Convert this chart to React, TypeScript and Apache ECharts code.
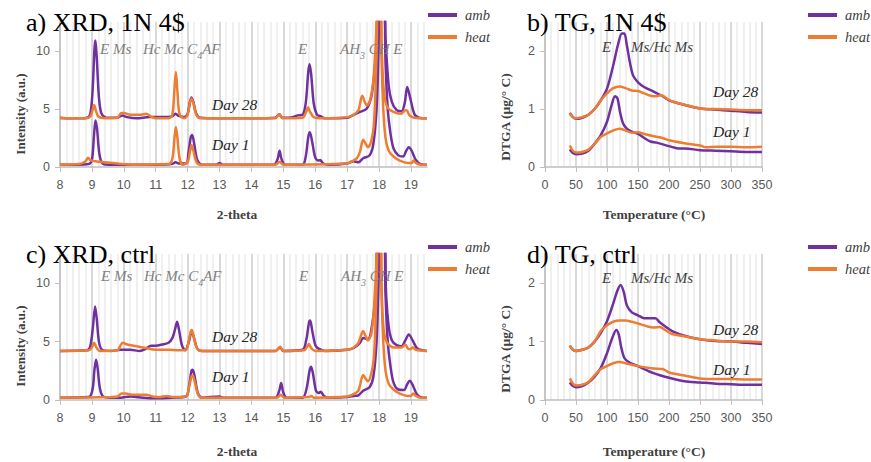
import React, { useEffect, useRef } from "react";
import * as echarts from "echarts";

// ---------- DATA ----------
const seriesNames = ["amb", "heat"];
const xrdTickLabels = [8, 9, 10, 11, 12, 13, 14, 15, 16, 17, 18, 19];
const xrdYTicks = [0, 5, 10];
const tgYTicks = [0, 1, 2];

// a) XRD, 1N 4$
const aAmb28 = [[8,4.25],[8.3,4.2],[8.6,4.2],[8.85,4.25],[8.95,4.6],[9.02,6.5],[9.08,10.2],[9.11,10.9],[9.15,9.5],[9.22,6.0],[9.3,4.6],[9.45,4.25],[9.8,4.25],[9.95,4.45],[10.1,4.3],[10.4,4.2],[10.8,4.3],[11.2,4.3],[11.5,4.35],[11.62,4.6],[11.72,4.4],[11.9,4.3],[12.0,4.6],[12.07,5.6],[12.12,6.0],[12.18,5.6],[12.27,4.6],[12.4,4.25],[13,4.2],[14,4.2],[14.75,4.25],[14.87,4.55],[14.97,4.25],[15.3,4.3],[15.45,4.45],[15.6,4.5],[15.7,5.5],[15.78,8.2],[15.82,8.85],[15.87,8.0],[15.95,5.5],[16.05,4.5],[16.15,4.4],[16.3,4.2],[17.0,4.25],[17.2,4.5],[17.4,4.75],[17.6,5.0],[17.75,6.0],[17.85,8.0],[17.95,11.5],[18.0,14],[18.15,14],[18.2,11],[18.3,7],[18.4,5.6],[18.55,4.9],[18.7,4.8],[18.8,5.5],[18.88,6.9],[18.97,6.0],[19.1,4.6],[19.25,4.25],[19.5,4.2]];
const aHeat28 = [[8,4.2],[8.8,4.2],[8.95,4.35],[9.02,4.9],[9.07,5.35],[9.12,4.9],[9.2,4.35],[9.4,4.2],[9.8,4.25],[9.92,4.65],[10.0,4.65],[10.2,4.5],[10.5,4.5],[10.7,4.6],[10.85,4.35],[11.0,4.2],[11.4,4.2],[11.52,4.5],[11.58,6.5],[11.63,8.2],[11.68,6.5],[11.75,4.5],[11.9,4.2],[12.0,4.5],[12.07,5.5],[12.12,5.9],[12.18,5.5],[12.27,4.5],[12.4,4.2],[14.75,4.2],[14.87,4.55],[14.97,4.2],[15.6,4.25],[15.72,4.8],[15.77,5.15],[15.83,4.8],[15.95,4.3],[16.2,4.2],[17.0,4.3],[17.2,4.5],[17.35,4.9],[17.47,6.15],[17.55,5.6],[17.62,5.3],[17.72,5.8],[17.82,7.5],[17.9,11],[17.95,14],[18.03,14],[18.08,10],[18.15,6.5],[18.25,5.2],[18.45,4.75],[18.7,4.6],[18.82,4.9],[18.88,4.85],[18.95,4.45],[19.1,4.25],[19.5,4.2]];
const aAmb1 = [[8,0.2],[8.5,0.2],[8.9,0.25],[9.0,0.6],[9.06,2.5],[9.11,4.0],[9.16,3.3],[9.23,1.2],[9.32,0.35],[9.5,0.2],[10,0.2],[11,0.2],[11.5,0.25],[11.62,0.4],[11.72,0.3],[11.95,0.3],[12.03,1.3],[12.1,2.6],[12.14,2.75],[12.2,2.1],[12.3,0.6],[12.45,0.2],[12.9,0.2],[13.0,0.35],[13.1,0.2],[14.7,0.2],[14.82,0.7],[14.88,1.4],[14.94,0.7],[15.05,0.2],[15.6,0.2],[15.7,0.9],[15.78,2.6],[15.83,3.0],[15.9,2.2],[16.0,0.8],[16.1,0.55],[16.15,0.6],[16.25,0.3],[16.4,0.2],[17.0,0.3],[17.2,0.5],[17.35,0.4],[17.5,0.75],[17.7,1.0],[17.82,2.0],[17.92,5.0],[17.98,10],[18.02,14],[18.15,14],[18.2,9],[18.27,5],[18.35,3],[18.45,1.6],[18.6,1.0],[18.75,0.9],[18.85,1.4],[18.93,1.7],[19.02,1.4],[19.15,0.6],[19.3,0.25],[19.5,0.2]];
const aHeat1 = [[8,0.2],[8.6,0.25],[8.8,0.5],[8.88,0.8],[8.95,0.6],[9.1,0.5],[9.4,0.4],[9.8,0.3],[10.3,0.2],[11.4,0.25],[11.52,0.7],[11.58,2.3],[11.63,3.45],[11.68,2.5],[11.75,0.7],[11.85,0.2],[12.0,0.4],[12.07,1.3],[12.12,1.9],[12.18,1.4],[12.28,0.4],[12.4,0.2],[14.75,0.2],[14.88,0.45],[15.0,0.2],[17.0,0.3],[17.15,0.5],[17.3,0.75],[17.4,1.3],[17.5,2.35],[17.58,2.0],[17.65,1.7],[17.75,2.2],[17.83,3.5],[17.88,6],[17.93,11],[17.97,14],[18.05,14],[18.08,9],[18.13,5],[18.2,2.5],[18.3,1.4],[18.45,0.9],[18.65,0.55],[18.9,0.35],[19.02,0.35],[19.08,0.55],[19.15,0.35],[19.3,0.2],[19.5,0.2]];

// c) XRD, ctrl
const cAmb28 = [[8,4.2],[8.85,4.25],[8.95,4.6],[9.03,6.2],[9.1,8.0],[9.15,7.0],[9.22,5.0],[9.32,4.3],[9.6,4.2],[9.9,4.3],[10.2,4.3],[10.5,4.2],[10.7,4.4],[10.85,4.65],[11.0,4.65],[11.2,4.75],[11.4,4.9],[11.52,5.3],[11.6,6.0],[11.67,6.7],[11.73,6.0],[11.82,4.7],[11.92,4.25],[12.03,4.9],[12.1,5.7],[12.13,5.85],[12.2,5.3],[12.3,4.4],[12.45,4.2],[14.75,4.2],[14.9,4.5],[15.0,4.2],[15.6,4.3],[15.72,5.2],[15.8,6.6],[15.84,6.8],[15.9,6.0],[16.0,4.7],[16.1,4.4],[16.3,4.2],[17.0,4.3],[17.2,4.45],[17.4,4.9],[17.5,5.3],[17.65,5.2],[17.8,6.8],[17.9,9.5],[17.97,14],[18.15,14],[18.22,9],[18.3,6.3],[18.4,5.1],[18.55,4.7],[18.7,4.6],[18.82,5.1],[18.93,5.6],[19.05,5.1],[19.2,4.4],[19.5,4.2]];
const cHeat28 = [[8,4.2],[8.9,4.25],[9.0,4.5],[9.07,4.9],[9.13,4.55],[9.25,4.2],[9.8,4.25],[9.9,4.7],[9.97,4.9],[10.1,4.75],[10.4,4.6],[10.7,4.45],[11.0,4.3],[11.4,4.3],[11.7,4.25],[11.95,4.3],[12.03,5.0],[12.1,5.9],[12.13,6.0],[12.2,5.3],[12.3,4.4],[12.45,4.2],[14.75,4.2],[14.9,4.55],[15.0,4.2],[15.65,4.25],[15.75,4.6],[15.8,4.8],[15.87,4.45],[16.0,4.2],[17.0,4.3],[17.2,4.5],[17.35,4.9],[17.5,5.9],[17.57,5.5],[17.65,5.1],[17.75,5.6],[17.83,7.5],[17.9,11],[17.95,14],[18.03,14],[18.08,9],[18.15,5.8],[18.25,4.9],[18.45,4.5],[18.7,4.5],[18.82,4.75],[18.9,4.4],[18.98,4.35],[19.05,4.5],[19.15,4.3],[19.5,4.2]];
const cAmb1 = [[8,0.2],[8.9,0.25],[9.02,0.9],[9.08,2.6],[9.13,3.45],[9.18,2.7],[9.25,1.0],[9.35,0.3],[9.6,0.2],[9.9,0.2],[10.2,0.3],[10.6,0.2],[11.0,0.15],[11.5,0.2],[11.95,0.3],[12.05,1.3],[12.12,2.5],[12.16,2.6],[12.22,2.0],[12.32,0.6],[12.45,0.2],[13.0,0.3],[13.1,0.2],[14.75,0.2],[14.87,0.8],[14.93,1.45],[14.99,0.7],[15.1,0.2],[15.6,0.2],[15.72,0.9],[15.82,2.5],[15.87,2.85],[15.93,2.2],[16.02,0.8],[16.1,0.6],[16.17,0.7],[16.27,0.35],[16.4,0.2],[17.0,0.25],[17.2,0.35],[17.35,0.4],[17.5,0.8],[17.7,1.1],[17.82,2.0],[17.92,5],[17.98,10],[18.02,14],[18.15,14],[18.2,9],[18.27,5],[18.35,3],[18.45,1.5],[18.6,0.9],[18.78,0.85],[18.88,1.35],[18.96,1.65],[19.05,1.3],[19.18,0.5],[19.3,0.25],[19.5,0.2]];
const cHeat1 = [[8,0.2],[9.6,0.25],[9.8,0.3],[9.93,0.55],[10.05,0.55],[10.3,0.45],[10.7,0.45],[10.9,0.3],[11.1,0.25],[11.35,0.35],[11.55,0.25],[11.95,0.3],[12.05,1.2],[12.12,2.0],[12.16,2.1],[12.22,1.6],[12.32,0.5],[12.45,0.2],[14.8,0.2],[14.92,0.45],[15.02,0.2],[15.8,0.25],[15.87,0.35],[15.95,0.2],[17.0,0.3],[17.2,0.5],[17.35,0.8],[17.5,2.15],[17.58,1.8],[17.65,1.6],[17.75,2.2],[17.83,3.5],[17.88,6],[17.93,11],[17.97,14],[18.05,14],[18.08,9],[18.13,5],[18.2,2.5],[18.3,1.4],[18.45,0.9],[18.65,0.55],[18.9,0.35],[19.0,0.35],[19.07,0.55],[19.15,0.35],[19.3,0.2],[19.5,0.2]];

// b) TG, 1N 4$
const bAmb28 = [[40,0.93],[45,0.86],[50,0.83],[60,0.85],[70,0.9],[80,1.0],[90,1.15],[100,1.35],[110,1.75],[118,2.12],[124,2.3],[128,2.3],[132,2.1],[137,1.8],[142,1.58],[150,1.46],[160,1.38],[175,1.3],[190,1.22],[200,1.15],[215,1.1],[225,1.07],[250,1.01],[275,0.99],[300,0.97],[325,0.95],[350,0.94]];
const bHeat28 = [[40,0.93],[45,0.86],[50,0.84],[60,0.86],[70,0.9],[80,1.0],[90,1.15],[100,1.27],[110,1.36],[120,1.39],[130,1.36],[140,1.32],[150,1.31],[160,1.27],[170,1.23],[180,1.22],[187,1.24],[195,1.19],[205,1.13],[215,1.1],[230,1.06],[250,1.01],[275,1.0],[300,0.99],[325,0.98],[350,0.98]];
const bAmb1 = [[40,0.3],[45,0.24],[50,0.22],[60,0.23],[70,0.28],[80,0.4],[90,0.55],[100,0.78],[107,1.05],[113,1.22],[117,1.18],[121,0.95],[126,0.75],[132,0.66],[140,0.61],[150,0.57],[160,0.5],[170,0.44],[180,0.42],[200,0.36],[215,0.32],[225,0.32],[250,0.29],[275,0.28],[300,0.27],[325,0.26],[350,0.26]];
const bHeat1 = [[40,0.37],[45,0.28],[50,0.25],[60,0.26],[70,0.3],[80,0.4],[90,0.52],[100,0.58],[110,0.63],[120,0.66],[130,0.63],[140,0.59],[150,0.6],[160,0.57],[175,0.53],[190,0.5],[200,0.46],[225,0.41],[250,0.37],[260,0.34],[275,0.35],[300,0.35],[325,0.34],[350,0.35]];

// d) TG, ctrl
const dAmb28 = [[40,0.93],[45,0.86],[50,0.84],[60,0.86],[70,0.9],[80,1.0],[90,1.15],[100,1.35],[110,1.65],[117,1.88],[122,1.97],[127,1.85],[132,1.62],[140,1.5],[150,1.45],[160,1.4],[170,1.4],[178,1.4],[185,1.33],[195,1.25],[205,1.18],[225,1.1],[250,1.04],[275,1.01],[300,1.0],[325,0.98],[350,0.96]];
const dHeat28 = [[40,0.93],[45,0.86],[50,0.84],[60,0.86],[70,0.9],[80,1.0],[90,1.18],[100,1.28],[110,1.34],[120,1.36],[130,1.36],[140,1.34],[150,1.31],[165,1.26],[175,1.24],[185,1.25],[195,1.19],[205,1.13],[225,1.09],[250,1.04],[275,1.02],[300,1.0],[325,1.0],[350,0.99]];
const dAmb1 = [[40,0.3],[45,0.24],[50,0.22],[60,0.24],[70,0.3],[80,0.4],[90,0.55],[100,0.8],[108,1.05],[115,1.2],[119,1.12],[123,0.9],[128,0.72],[135,0.65],[150,0.58],[175,0.46],[200,0.38],[225,0.32],[250,0.3],[275,0.28],[300,0.27],[325,0.26],[350,0.26]];
const dHeat1 = [[40,0.37],[45,0.28],[50,0.25],[60,0.26],[70,0.31],[80,0.42],[90,0.53],[100,0.58],[110,0.63],[120,0.65],[130,0.63],[150,0.58],[175,0.54],[190,0.53],[200,0.47],[225,0.42],[250,0.37],[275,0.36],[300,0.36],[325,0.35],[350,0.35]];

const panelTitles = ["a) XRD, 1N 4$", "b) TG, 1N 4$", "c) XRD, ctrl", "d) TG, ctrl"];

// ---------- STYLE ----------
const PURPLE = "#7030A0";
const ORANGE = "#ED7D31";
const SERIF = '"Liberation Serif", "Times New Roman", serif';
const SANS = '"Liberation Sans", Arial, sans-serif';
const GRAY_TXT = "#7f7f7f";

const grids = [
  { left: 60, top: 22, width: 367, height: 145 },
  { left: 545, top: 22, width: 217, height: 145 },
  { left: 60, top: 254, width: 367, height: 146 },
  { left: 545, top: 254, width: 217, height: 146 },
];

function xAxisFor(gridIndex: number, xrd: boolean) {
  return {
    type: "value",
    gridIndex,
    min: xrd ? 8 : 0,
    max: xrd ? 19.5 : 350,
    interval: xrd ? 1 : 50,
    axisLine: { show: true, onZero: false, lineStyle: { color: "#bfbfbf", width: 1.5 } },
    axisTick: {
      show: true,
      length: 5,
      lineStyle: { color: "#bfbfbf", width: 1 },
      ...(xrd ? { customValues: xrdTickLabels } : {}),
    },
    axisLabel: {
      margin: 11,
      color: "#595959",
      fontSize: 12.5,
      fontFamily: SANS,
      ...(xrd ? { customValues: xrdTickLabels } : {}),
    },
    splitLine: { show: true, lineStyle: { color: "#d9d9d9", width: 2 } },
    minorTick: { show: false, splitNumber: 5 },
    minorSplitLine: { show: true, lineStyle: { color: "#ebebeb", width: 1.5 } },
  };
}

function yAxisFor(gridIndex: number, xrd: boolean) {
  const ticks = xrd ? xrdYTicks : tgYTicks;
  return {
    type: "value",
    gridIndex,
    min: 0,
    max: 2.5 * (xrd ? 5 : 1),
    interval: xrd ? 5 : 1,
    axisLine: { show: true, lineStyle: { color: "#bfbfbf", width: 1.5 } },
    axisTick: { show: true, length: 5, lineStyle: { color: "#bfbfbf" }, customValues: ticks },
    axisLabel: { margin: 10, color: "#595959", fontSize: 12.5, fontFamily: SANS, customValues: ticks },
    splitLine: { show: false },
  };
}

function line(name: string, data: number[][], idx: number, color: string) {
  return {
    type: "line",
    name,
    data,
    xAxisIndex: idx,
    yAxisIndex: idx,
    showSymbol: false,
    symbol: "none",
    smooth: 0.3,
    clip: true,
    itemStyle: { color },
    lineStyle: { color, width: 2.5 },
    z: color === ORANGE ? 3 : 2,
  };
}

function txt(text: string, x: number, y: number, opts: any = {}) {
  return {
    type: "text",
    x,
    y,
    rotation: opts.rotation || 0,
    z: 10,
    style: {
      text,
      fill: opts.fill || "#000",
      fontSize: opts.fontSize || 15,
      fontFamily: SERIF,
      fontStyle: opts.fontStyle || "normal",
      fontWeight: opts.fontWeight || "normal",
      align: opts.align || "left",
      verticalAlign: "middle",
      rich: opts.rich,
    },
  };
}

const subRich = {
  sub: {
    fontSize: 10,
    fontStyle: "italic",
    fontFamily: SERIF,
    fill: GRAY_TXT,
    padding: [13, 0, 0, 0],
  },
};

function annoXRD(y: number, dx: number) {
  const o = { fill: GRAY_TXT, fontStyle: "italic", fontSize: 15, rich: subRich };
  return [
    txt("E Ms", 100 + dx, y, o),
    txt("Hc Mc C{sub|4}AF", 143 + dx, y, o),
    txt("E", 298 + dx, y, o),
    txt("AH{sub|3} CH E", 340 + dx, y, o),
  ];
}

function annoTG(y: number) {
  const o = { fill: "#404040", fontStyle: "italic", fontSize: 15 };
  return [txt("E", 602, y, o), txt("Ms/Hc Ms", 631, y, o)];
}

function dayLabels(x: number, y28: number, y1: number) {
  const o = { fill: "#262626", fontStyle: "italic", fontSize: 15.5 };
  return [txt("Day 28", x, y28, o), txt("Day 1", x, y1, o)];
}

function legendAt(left: number, top: number) {
  return {
    left,
    top,
    padding: 0,
    orient: "vertical",
    icon: "rect",
    itemWidth: 29,
    itemHeight: 4,
    itemGap: 6,
    data: seriesNames,
    selectedMode: false,
    textStyle: {
      fontFamily: SERIF,
      fontStyle: "italic",
      fontSize: 14.5,
      color: "#404040",
      lineHeight: 16,
      padding: [0, 0, 0, 3],
    },
  };
}

export default function App() {
  const ref = useRef<HTMLDivElement>(null);
  useEffect(() => {
    if (!ref.current) return;
    const chart = echarts.init(ref.current, undefined, { renderer: "svg" });
    const option: any = {
      animation: false,
      backgroundColor: "#ffffff",
      color: [PURPLE, ORANGE],
      grid: grids,
      xAxis: [xAxisFor(0, true), xAxisFor(1, false), xAxisFor(2, true), xAxisFor(3, false)],
      yAxis: [yAxisFor(0, true), yAxisFor(1, false), yAxisFor(2, true), yAxisFor(3, false)],
      legend: [legendAt(428, 7), legendAt(808, 7), legendAt(428, 239), legendAt(808, 239)],
      series: [
        line("amb", aAmb28, 0, PURPLE),
        line("amb", aAmb1, 0, PURPLE),
        line("heat", aHeat28, 0, ORANGE),
        line("heat", aHeat1, 0, ORANGE),
        line("amb", bAmb28, 1, PURPLE),
        line("amb", bAmb1, 1, PURPLE),
        line("heat", bHeat28, 1, ORANGE),
        line("heat", bHeat1, 1, ORANGE),
        line("amb", cAmb28, 2, PURPLE),
        line("amb", cAmb1, 2, PURPLE),
        line("heat", cHeat28, 2, ORANGE),
        line("heat", cHeat1, 2, ORANGE),
        line("amb", dAmb28, 3, PURPLE),
        line("amb", dAmb1, 3, PURPLE),
        line("heat", dHeat28, 3, ORANGE),
        line("heat", dHeat1, 3, ORANGE),
      ],
      graphic: [
        txt(panelTitles[0], 26, 22, { fontSize: 26 }),
        txt(panelTitles[1], 527, 22, { fontSize: 26 }),
        txt(panelTitles[2], 26, 254, { fontSize: 26 }),
        txt(panelTitles[3], 527, 254, { fontSize: 26 }),
        txt("Intensity (a.u.)", 20, 114, { rotation: Math.PI / 2, align: "center", fontWeight: "bold", fontSize: 13, fill: "#404040" }),
        txt("Intensity (a.u.)", 20, 346, { rotation: Math.PI / 2, align: "center", fontWeight: "bold", fontSize: 13, fill: "#404040" }),
        txt("DTGA (\u00b5g/\u00b0 C)", 505, 117, { rotation: Math.PI / 2, align: "center", fontWeight: "bold", fontSize: 13.5, fill: "#404040" }),
        txt("DTGA (\u00b5g/\u00b0 C)", 505, 349, { rotation: Math.PI / 2, align: "center", fontWeight: "bold", fontSize: 13.5, fill: "#404040" }),
        txt("2-theta", 237, 214, { align: "center", fontWeight: "bold", fontSize: 13.5, fill: "#404040" }),
        txt("2-theta", 237, 451, { align: "center", fontWeight: "bold", fontSize: 13.5, fill: "#404040" }),
        txt("Temperature (\u00b0C)", 654, 214, { align: "center", fontWeight: "bold", fontSize: 13.5, fill: "#404040" }),
        txt("Temperature (\u00b0C)", 654, 451, { align: "center", fontWeight: "bold", fontSize: 13.5, fill: "#404040" }),
        ...annoXRD(49, 0),
        ...annoXRD(276, 1),
        ...annoTG(47),
        ...annoTG(278),
        ...dayLabels(212, 104, 144),
        ...dayLabels(713, 91, 131),
        ...dayLabels(212, 336, 376),
        ...dayLabels(713, 329, 369),
      ],
    };
    chart.setOption(option);
    return () => chart.dispose();
  }, []);
  return (
    <div
      ref={ref}
      style={{ position: "fixed", left: 0, top: 0, width: 871, height: 462, background: "#fff" }}
    />
  );
}
